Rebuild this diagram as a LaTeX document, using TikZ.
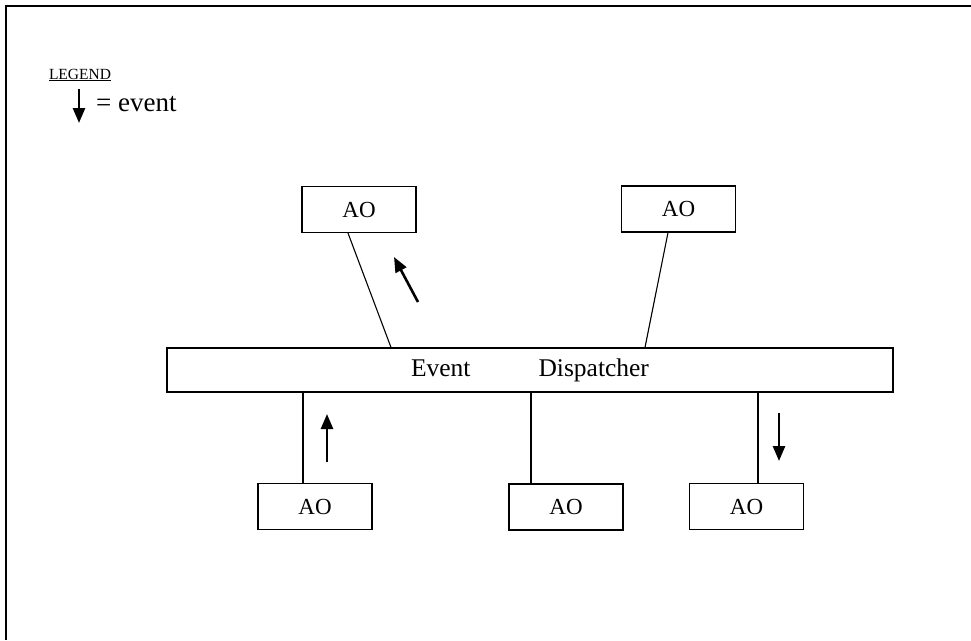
\documentclass[tikz,border=0pt]{standalone}
\usepackage{fontspec}
\setmainfont{Liberation Serif}
\usetikzlibrary{arrows.meta}
\begin{document}
\begin{tikzpicture}[x=1pt,y=-1pt,
  frame/.style={line width=1.4pt},
  aobox/.style={draw,line width=1.2pt,minimum width=114pt,minimum height=46pt,inner sep=0pt,font=\fontsize{23}{26}\selectfont},
  busbox/.style={draw,line width=1.2pt,minimum width=726pt,minimum height=44pt,inner sep=0pt,font=\fontsize{25.5}{28}\selectfont},
  link/.style={line width=1.1pt},
  evt/.style={line width=2.6pt,-{Triangle[length=15pt,width=12pt]}}]
\useasboundingbox (0,0) rectangle (971,640);
% page frame (top and left edges only)
\draw[frame] (971,6) -- (6,6) -- (6,640);
% legend
\node[font=\fontsize{15.5}{17}\selectfont,inner sep=0pt] (legend) at (80,75) {\underline{LEGEND}};
\coordinate (lgA) at (79,89);
\coordinate (lgB) at (79,123);
\draw[evt] (lgA) -- (lgB);
\node[font=\fontsize{27}{30}\selectfont,anchor=west,inner sep=0pt] (lgtext) at (96,104) {= event};
% active objects and the dispatcher bus
\node[aobox] (aoTL) at (359,209.5) {AO};
\node[aobox] (aoTR) at (678.5,209) {AO};
\node[busbox] (bus) at (530,370) {Event\hspace{68pt}Dispatcher};
\node[aobox] (aoBL) at (315,506.5) {AO};
\node[aobox] (aoBM) at (566,507) {AO};
\node[aobox] (aoBR) at (746.5,506.5) {AO};
% connections to the bus
\draw[link] ([xshift=-11pt]aoTL.south) -- ([xshift=-139pt]bus.north);
\draw[link] ([xshift=-10.5pt]aoTR.south) -- ([xshift=115pt]bus.north);
\draw[link] ([xshift=-12pt]aoBL.north) -- ([xshift=-12pt]aoBL.north |- bus.south);
\draw[link] ([xshift=-35pt]aoBM.north) -- ([xshift=-35pt]aoBM.north |- bus.south);
\draw[link] ([xshift=11.5pt]aoBR.north) -- ([xshift=11.5pt]aoBR.north |- bus.south);
% events travelling along the links
\coordinate (e1a) at (418,302);
\coordinate (e1b) at (394,257);
\draw[evt] (e1a) -- (e1b);
\coordinate (e2a) at (327,462);
\coordinate (e2b) at (327,414);
\draw[evt] (e2a) -- (e2b);
\coordinate (e3a) at (779,413);
\coordinate (e3b) at (779,461);
\draw[evt] (e3a) -- (e3b);
\end{tikzpicture}
\end{document}
